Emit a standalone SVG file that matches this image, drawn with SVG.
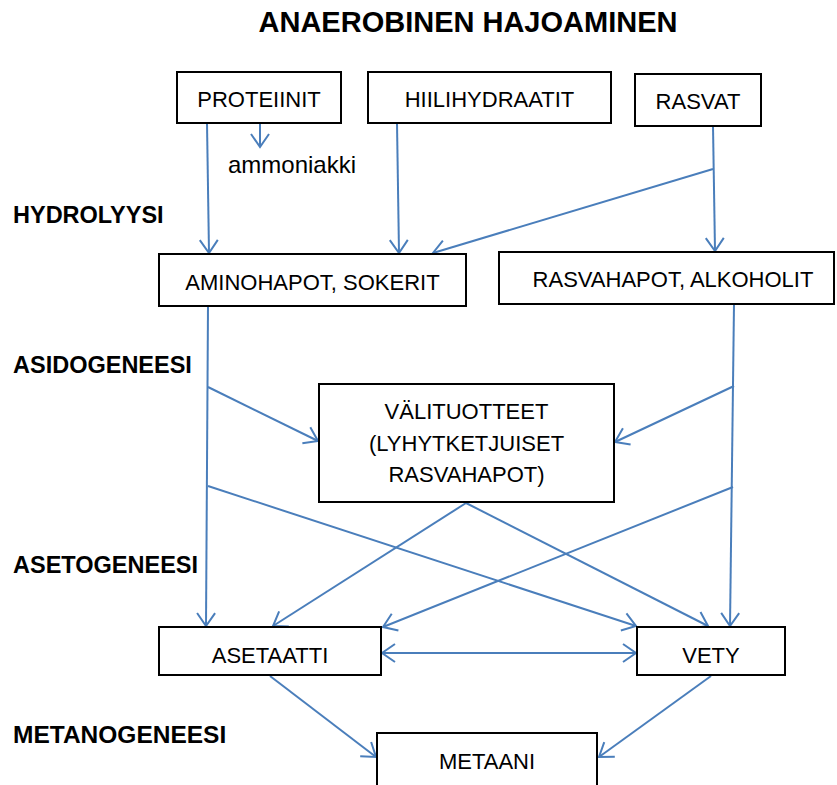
<svg xmlns="http://www.w3.org/2000/svg" width="837" height="785" viewBox="0 0 837 785">
<style>
.box{fill:#fff;stroke:#000;stroke-width:2}
.t{font-family:"Liberation Sans",Arial,sans-serif;font-size:22px;fill:#000;text-anchor:middle}
.h{font-family:"Liberation Sans",Arial,sans-serif;font-weight:bold;font-size:23.5px;fill:#000}
.c{stroke:#4A7EBB;stroke-width:2;fill:none;marker-end:url(#ah)}
</style>
<defs>
<marker id="ah" markerUnits="userSpaceOnUse" viewBox="-15 -11 17 22" refX="0" refY="0" markerWidth="17" markerHeight="22" orient="auto-start-reverse">
<path d="M-13,-9 L0,0 L-13,9" fill="none" stroke="#4A7EBB" stroke-width="2"/>
</marker>
</defs>
<rect width="837" height="785" fill="#fff"/>
<text x="468" y="32" font-family="Liberation Sans,Arial,sans-serif" font-weight="bold" font-size="29" text-anchor="middle" fill="#000">ANAEROBINEN HAJOAMINEN</text>
<text class="h" x="13" y="223">HYDROLYYSI</text>
<text class="h" x="13" y="373">ASIDOGENEESI</text>
<text class="h" x="13" y="573">ASETOGENEESI</text>
<text class="h" x="13" y="743" style="font-size:24.5px">METANOGENEESI</text>
<g id="connectors">
<line class="c" x1="207" y1="123" x2="209" y2="253"/>
<line class="c" x1="260" y1="123" x2="260" y2="147"/>
<line class="c" x1="397" y1="123" x2="399" y2="253"/>
<line class="c" x1="713" y1="126" x2="715" y2="251"/>
<line class="c" x1="713" y1="169" x2="433" y2="253"/>
<line class="c" x1="208" y1="306" x2="206" y2="626"/>
<line class="c" x1="208" y1="387" x2="318" y2="441"/>
<line class="c" x1="208" y1="486" x2="636" y2="626"/>
<line class="c" x1="734" y1="304" x2="730" y2="626"/>
<line class="c" x1="734" y1="386" x2="615" y2="442"/>
<line class="c" x1="733" y1="487" x2="383" y2="627"/>
<line class="c" x1="466" y1="503" x2="273" y2="626"/>
<line class="c" x1="466" y1="503" x2="708" y2="626"/>
<line class="c" x1="382" y1="653" x2="636" y2="653" marker-start="url(#ah)"/>
<line class="c" x1="270" y1="676" x2="376" y2="757"/>
<line class="c" x1="711" y1="676" x2="599" y2="757"/>
</g>
<text x="228" y="173" font-family="Liberation Sans,Arial,sans-serif" font-size="24" fill="#000">ammoniakki</text>
<g id="proteiinit"><rect class="box" x="177" y="72" width="164" height="51"/><text class="t" x="259" y="107">PROTEIINIT</text></g>
<g id="hiilihydraatit"><rect class="box" x="368" y="72" width="243" height="51"/><text class="t" x="489.5" y="107">HIILIHYDRAATIT</text></g>
<g id="rasvat"><rect class="box" x="635" y="74" width="126" height="52"/><text class="t" x="698" y="109">RASVAT</text></g>
<g id="aminohapot"><rect class="box" x="159" y="254" width="307" height="52"/><text class="t" x="312.5" y="290">AMINOHAPOT, SOKERIT</text></g>
<g id="rasvahapot"><rect class="box" x="499" y="252" width="335" height="52"/><text class="t" x="673" y="287">RASVAHAPOT, ALKOHOLIT</text></g>
<g id="valituotteet"><rect class="box" x="319" y="384" width="295" height="118"/>
<text class="t" x="466.5" y="419">VÄLITUOTTEET</text>
<text class="t" x="466.5" y="451">(LYHYTKETJUISET</text>
<text class="t" x="466.5" y="482">RASVAHAPOT)</text></g>
<g id="asetaatti"><rect class="box" x="159" y="627" width="222" height="48"/><text class="t" x="270" y="663">ASETAATTI</text></g>
<g id="vety"><rect class="box" x="637" y="627" width="148" height="48"/><text class="t" x="711" y="663">VETY</text></g>
<g id="metaani"><rect class="box" x="377" y="733" width="220" height="60"/><text class="t" x="487" y="769">METAANI</text></g>
</svg>
